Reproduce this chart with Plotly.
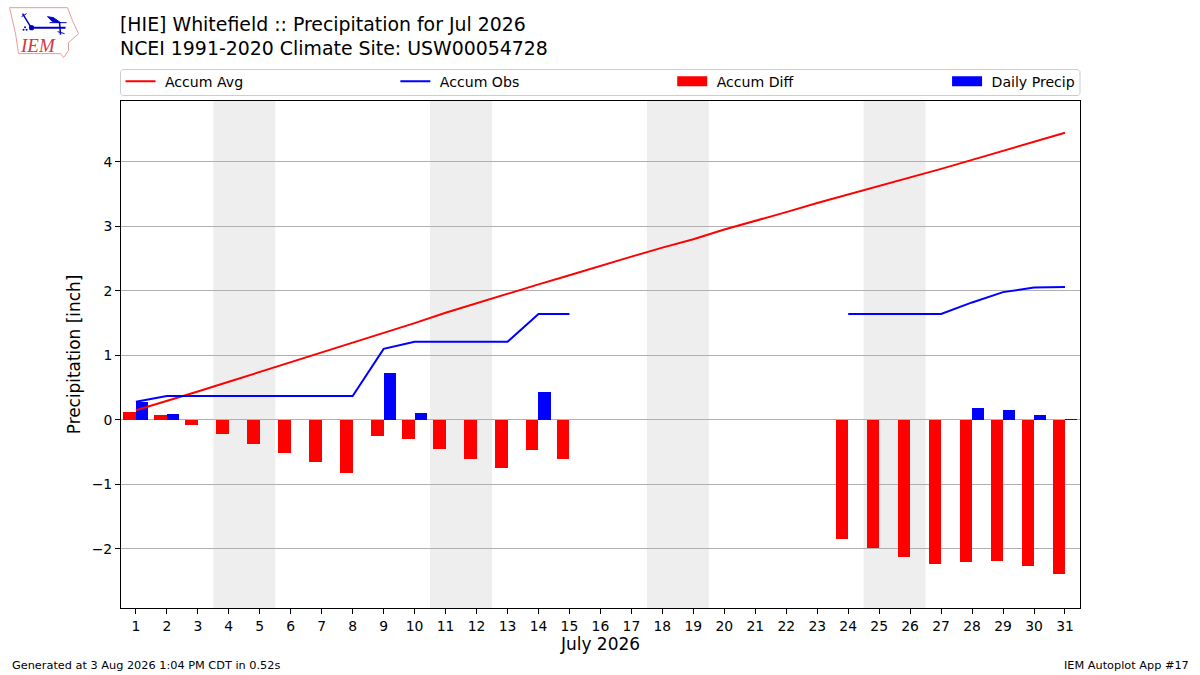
import plotly.graph_objects as go

days = list(range(1, 32))
accum_avg = [0.15, 0.29, 0.44, 0.59, 0.74, 0.89, 1.04, 1.19, 1.35, 1.50, 1.66, 1.81, 1.95, 2.10, 2.24, 2.39,
             2.53, 2.67, 2.80, 2.95, 3.08, 3.22, 3.36, 3.49, 3.63, 3.76, 3.89, 4.03, 4.17, 4.31, 4.45]
accum_obs = [0.28, 0.37, 0.37, 0.37, 0.37, 0.37, 0.37, 0.37, 1.10, 1.21, 1.21, 1.21, 1.21, 1.64, 1.64, None,
             None, None, None, None, None, None, None, 1.64, 1.64, 1.64, 1.64, 1.82, 1.98, 2.05, 2.06]
accum_diff = [0.12, 0.08, -0.08, -0.22, -0.37, -0.52, -0.66, -0.82, -0.25, -0.29, -0.45, -0.60, -0.74, -0.46, -0.60, None,
              None, None, None, None, None, None, None, -1.85, -1.99, -2.12, -2.24, -2.21, -2.19, -2.27, -2.39]
daily_precip = [0.28, 0.09, 0, 0, 0, 0, 0, 0, 0.73, 0.11, 0, 0, 0, 0.43, 0, None,
                None, None, None, None, None, None, None, 0, 0, 0, 0, 0.18, 0.16, 0.08, 0.01]
weekends = [(3.5, 5.5), (10.5, 12.5), (17.5, 19.5), (24.5, 26.5)]
y_ticks = [-2, -1, 0, 1, 2, 3, 4]

FONT = "DejaVu Sans"
W, H = 1200, 675
L, R, T, B = 120.5, 1080, 100.5, 608.5
LOGO_BLUE = "#0000cc"


def px(x, y):
    # page pixels to paper coordinates, for the decorations outside the plot
    return (x - L) / (R - L), (B - y) / (B - T)


def pathFrom(points, close=True):
    parts = []
    for i, (x, y) in enumerate(points):
        a, b = px(x, y)
        parts.append(("M" if i == 0 else "L") + "{:.5f},{:.5f}".format(a, b))
    return " ".join(parts) + (" Z" if close else "")


def addPath(fig, points, line=None, fill=None, width=1, close=True):
    fig.add_shape(type="path", xref="paper", yref="paper", path=pathFrom(points, close),
                  line=dict(color=line or "rgba(0,0,0,0)", width=width),
                  fillcolor=fill or "rgba(0,0,0,0)", layer="above")


def addDot(fig, x, y, r):
    x0, y0 = px(x - r, y - r)
    x1, y1 = px(x + r, y + r)
    fig.add_shape(type="circle", xref="paper", yref="paper", x0=x0, y0=y0, x1=x1, y1=y1,
                  fillcolor=LOGO_BLUE, line_width=0, layer="above")


def addText(fig, text, x, y, xanchor, size, family=FONT, color="#000000"):
    a, b = px(x, y)
    fig.add_annotation(text=text, xref="paper", yref="paper", x=a, y=b, xanchor=xanchor, yanchor="middle",
                       showarrow=False, font=dict(family=family, size=size, color=color))


fig = go.Figure()

fig.add_trace(go.Bar(x=days, y=accum_diff, width=0.4, offset=-0.4, marker=dict(color="#ff0000", line_width=0),
                     showlegend=False))
fig.add_trace(go.Bar(x=days, y=daily_precip, width=0.4, offset=0, marker=dict(color="#0000ff", line_width=0),
                     showlegend=False))
# the leading nbsp opens up the gap between swatch and label
fig.add_trace(go.Scatter(x=days, y=accum_avg, mode="lines", name="\u00a0Accum Avg", line=dict(color="#ff0000", width=2),
                         legend="legend"))
fig.add_trace(go.Scatter(x=days, y=accum_obs, mode="lines", name="\u00a0Accum Obs", line=dict(color="#0000ff", width=2),
                         legend="legend2"))
# legend only, plotly's own bar swatch is a small square
fig.add_trace(go.Scatter(x=[None], y=[None], mode="lines", name="\u00a0Accum Diff", line=dict(color="#ff0000", width=10),
                         legend="legend3"))
fig.add_trace(go.Scatter(x=[None], y=[None], mode="lines", name="\u00a0Daily Precip", line=dict(color="#0000ff", width=10),
                         legend="legend4"))

for start, end in weekends:
    fig.add_vrect(x0=start, x1=end, fillcolor="#eeeeee", line_width=0, layer="below")


def legendAt(x):
    a, b = px(x, 81)
    return dict(x=a, y=b, xanchor="left", yanchor="middle", orientation="h", bgcolor="rgba(0,0,0,0)",
                font=dict(family=FONT, size=14.1, color="#000000"), itemwidth=30)


# legend frame
fig.add_shape(type="path", xref="paper", yref="paper",
              path=pathFrom([(122, 69), (1078, 69), (1080, 71), (1080, 93), (1078, 95), (122, 95), (120, 93), (120, 71)]),
              line=dict(color="#cccccc", width=1), fillcolor="#ffffff", layer="below")

# IEM logo
addPath(fig, [(9, 7), (67, 7), (72, 20), (78, 33), (68, 42), (68, 50), (63, 57), (60, 53), (18, 53), (15, 33)],
        line="#ee9999", width=1)
addPath(fig, [(31, 27), (65, 27)], line=LOGO_BLUE, width=2, close=False)
addPath(fig, [(47, 16), (53, 17), (60, 22), (52, 21)], fill=LOGO_BLUE, line=LOGO_BLUE)
addPath(fig, [(49, 22), (66, 22)], line=LOGO_BLUE, width=1, close=False)
addPath(fig, [(59, 22), (60, 34)], line=LOGO_BLUE, width=1.5, close=False)
addPath(fig, [(57, 31), (64, 33)], line=LOGO_BLUE, width=1, close=False)
addPath(fig, [(22, 13), (30, 26)], line=LOGO_BLUE, width=1.5, close=False)
addPath(fig, [(21, 16), (26, 13)], line=LOGO_BLUE, width=1, close=False)
addDot(fig, 31, 27, 2.6)
addDot(fig, 23, 29, 1)
addDot(fig, 26, 29, 1)
addDot(fig, 24.5, 26.5, 1)
addText(fig, "<i>IEM</i>", 37.5, 45, "center", 19, family="Liberation Serif", color="#d9333f")

addText(fig, "NCEI 1991-2020 Climate Site: USW00054728", 117, 47, "left", 18.9)
addText(fig, "Generated at 3 Aug 2026 1:04 PM CDT in 0.52s", 9, 666, "left", 11.3)
addText(fig, "IEM Autoplot App #17", 1191, 666, "right", 11.3)

fig.update_layout(
    width=W, height=H,
    margin=dict(l=L, r=W - R, t=T, b=H - B, pad=0),
    paper_bgcolor="#ffffff", plot_bgcolor="#ffffff",
    barmode="overlay", bargap=0,
    font=dict(family=FONT, size=14, color="#000000"),
    title=dict(text="[HIE] Whitefield :: Precipitation for Jul 2026",
               x=120 / W, xanchor="left", y=1 - 24.5 / H, yanchor="middle", font=dict(family=FONT, size=18.9)),
    legend=legendAt(120), legend2=legendAt(395), legend3=legendAt(672), legend4=legendAt(947),
    xaxis=dict(range=[0.52, 31.485], tickvals=days, ticks="outside", ticklen=5, tickwidth=1, tickcolor="#000000",
               showgrid=False, zeroline=False, showline=True, linecolor="#000000", linewidth=1, mirror=True,
               title=dict(text="July 2026", font=dict(size=17), standoff=4), tickfont=dict(size=13.9)),
    yaxis=dict(range=[-2.916, 4.942], tickvals=y_ticks, ticks="outside", ticklen=5, tickwidth=1, tickcolor="#000000",
               showgrid=True, gridcolor="#b0b0b0", gridwidth=1, zeroline=True, zerolinecolor="#b0b0b0", zerolinewidth=1,
               showline=True, linecolor="#000000", linewidth=1, mirror=True,
               title=dict(text="Precipitation [inch]", font=dict(size=16.9), standoff=6), tickfont=dict(size=13.9)),
)

fig.write_html("out.html", config=dict(displayModeBar=False), post_script="document.body.style.margin='0';")
